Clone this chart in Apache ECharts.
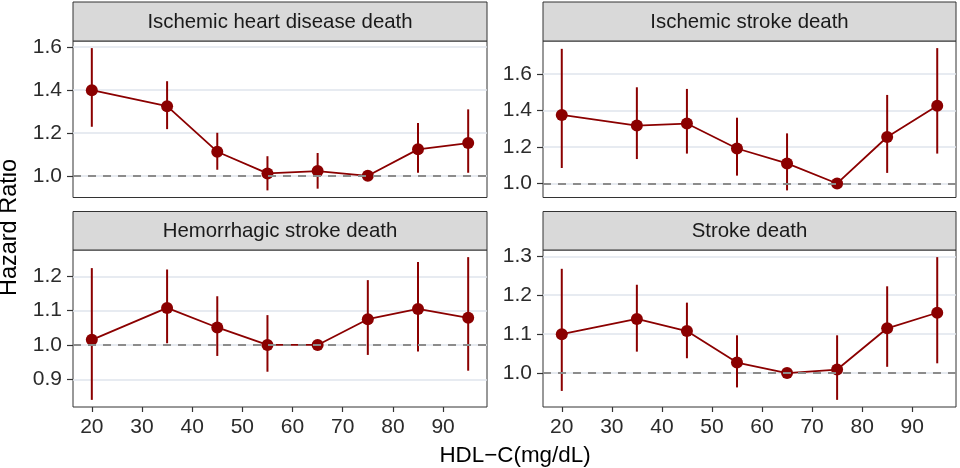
<!DOCTYPE html>
<html>
<head>
<meta charset="utf-8">
<script src="https://cdn.jsdelivr.net/npm/echarts@6/dist/echarts.min.js"></script>
<style>html,body{margin:0;padding:0;background:#fff}#c{width:960px;height:468px}</style>
</head>
<body>
<div id="c"></div>
<script>
// ---- data ----
const hdl = [20, 35, 45, 55, 65, 75, 85, 95];
const xTicks = [20, 30, 40, 50, 60, 70, 80, 90];

const titles = ['Ischemic heart disease death', 'Ischemic stroke death', 'Hemorrhagic stroke death', 'Stroke death'];

const hrIHD = [1.398, 1.324, 1.112, 1.011, 1.022, 1.000, 1.123, 1.152];
const loIHD = [1.228, 1.217, 1.028, 0.932, 0.940, null, 1.014, 1.014];
const hiIHD = [1.594, 1.440, 1.200, 1.091, 1.106, null, 1.245, 1.309];

const hrIS = [1.376, 1.318, 1.329, 1.192, 1.110, 1.000, 1.255, 1.426];
const loIS = [1.085, 1.134, 1.164, 1.043, 0.962, null, 1.058, 1.164];
const hiIS = [1.739, 1.528, 1.519, 1.361, 1.275, null, 1.486, 1.743];

const hrHS = [1.015, 1.108, 1.051, 1.000, 1.000, 1.075, 1.105, 1.079];
const loHS = [0.840, 1.005, 0.968, 0.922, null, 0.971, 0.981, 0.925];
const hiHS = [1.224, 1.220, 1.142, 1.087, null, 1.189, 1.242, 1.256];

const hrST = [1.100, 1.139, 1.108, 1.027, 1.000, 1.009, 1.115, 1.155];
const loST = [0.954, 1.055, 1.038, 0.963, null, 0.931, 1.016, 1.025];
const hiST = [1.268, 1.227, 1.181, 1.097, null, 1.097, 1.223, 1.298];

const yTicksIHD = [1.0, 1.2, 1.4, 1.6];
const yTicksIS = [1.0, 1.2, 1.4, 1.6];
const yTicksHS = [0.9, 1.0, 1.1, 1.2];
const yTicksST = [1.0, 1.1, 1.2, 1.3];

const refValue = 1.0;

// ---- build ----
const panels = [
  {hr: hrIHD, lo: loIHD, hi: hiIHD, yt: yTicksIHD},
  {hr: hrIS, lo: loIS, hi: hiIS, yt: yTicksIS},
  {hr: hrHS, lo: loHS, hi: hiHS, yt: yTicksHS},
  {hr: hrST, lo: loST, hi: hiST, yt: yTicksST}
];

const FONT = '"Liberation Sans", Arial, Helvetica, sans-serif';
const RED = '#8B0000';
const layout = [
  {left: 73, top: 41, width: 414, height: 156.5},
  {left: 543, top: 41, width: 413, height: 156.5},
  {left: 73, top: 250, width: 414, height: 157},
  {left: 543, top: 250, width: 413, height: 157}
];

function expand(min, max) {
  const pad = (max - min) * 0.05;
  return [min - pad, max + pad];
}
const xr = expand(Math.min(...hdl), Math.max(...hdl));

const grid = [], xAxis = [], yAxis = [], series = [], graphic = [];

panels.forEach((p, i) => {
  const vals = p.hr.concat(p.lo.filter(v => v != null), p.hi.filter(v => v != null));
  const yr = expand(Math.min(...vals), Math.max(...vals));
  const L = layout[i];
  grid.push({left: L.left, top: L.top, width: L.width, height: L.height,
    show: true, borderColor: '#333333', borderWidth: 1, backgroundColor: '#fff', containLabel: false});
  const bottomRow = i >= 2;
  xAxis.push({
    type: 'value', gridIndex: i, min: xr[0], max: xr[1],
    axisLine: {show: false},
    axisTick: {show: bottomRow, length: 5, customValues: xTicks, lineStyle: {color: '#333333', width: 1.2}},
    axisLabel: {show: bottomRow, customValues: xTicks, fontSize: 21, color: '#2b2b2b', fontFamily: FONT, margin: 10},
    splitLine: {show: false}
  });
  yAxis.push({
    type: 'value', gridIndex: i, min: yr[0], max: yr[1],
    axisLine: {show: false},
    axisTick: {show: true, length: 6, customValues: p.yt, lineStyle: {color: '#333333', width: 1.2}},
    axisLabel: {customValues: p.yt, fontSize: 21, color: '#2b2b2b', fontFamily: FONT, margin: 11,
      formatter: v => v.toFixed(1)},
    splitLine: {show: true, lineStyle: {color: '#dfe5ec', width: 1.5}}
  });
  // reference dashed line
  series.push({
    type: 'line', xAxisIndex: i, yAxisIndex: i, data: [], z: 1, silent: true,
    markLine: {silent: true, symbol: 'none', label: {show: false},
      lineStyle: {color: '#8c8c8c', type: [8, 7], width: 2},
      data: [{yAxis: refValue}]}
  });
  // error bars
  const eb = [];
  hdl.forEach((x, k) => { if (p.lo[k] != null) eb.push([x, p.lo[k], p.hi[k]]); });
  series.push({
    type: 'custom', xAxisIndex: i, yAxisIndex: i, z: 2, data: eb, silent: true,
    encode: {x: 0, y: [1, 2]},
    renderItem: (params, api) => {
      const a = api.coord([api.value(0), api.value(1)]);
      const b = api.coord([api.value(0), api.value(2)]);
      return {type: 'line', shape: {x1: a[0], y1: a[1], x2: b[0], y2: b[1]},
        style: {stroke: RED, lineWidth: 2}};
    }
  });
  // main line + points
  series.push({
    type: 'line', xAxisIndex: i, yAxisIndex: i, z: 3, silent: true,
    data: hdl.map((x, k) => [x, p.hr[k]]),
    symbol: 'circle', symbolSize: 12, showSymbol: true,
    itemStyle: {color: RED}, lineStyle: {color: RED, width: 1.8},
    animation: false
  });
  // strip header
  graphic.push({type: 'rect', shape: {x: L.left, y: i < 2 ? 2 : 211.5, width: L.width, height: i < 2 ? 39 : 38.5},
    style: {fill: '#d9d9d9', stroke: '#333333', lineWidth: 1}, z: 10});
  graphic.push({type: 'text', x: L.left + L.width / 2, y: i < 2 ? 22 : 231,
    style: {text: titles[i], fill: '#1a1a1a', font: '20.4px ' + FONT, textAlign: 'center', textVerticalAlign: 'middle'}, z: 11});
});

graphic.push({type: 'text', x: 10, y: 227.5, rotation: Math.PI / 2,
  style: {text: 'Hazard Ratio', fill: '#000', font: '23.5px ' + FONT, textAlign: 'center', textVerticalAlign: 'middle'}});
graphic.push({type: 'text', x: 515, y: 456,
  style: {text: 'HDL\u2212C(mg/dL)', fill: '#000', font: '22.4px ' + FONT, textAlign: 'center', textVerticalAlign: 'middle'}});

const chart = echarts.init(document.getElementById('c'), null, {renderer: 'canvas'});
chart.setOption({animation: false, backgroundColor: '#fff', grid, xAxis, yAxis, series, graphic});
</script>
</body>
</html>
